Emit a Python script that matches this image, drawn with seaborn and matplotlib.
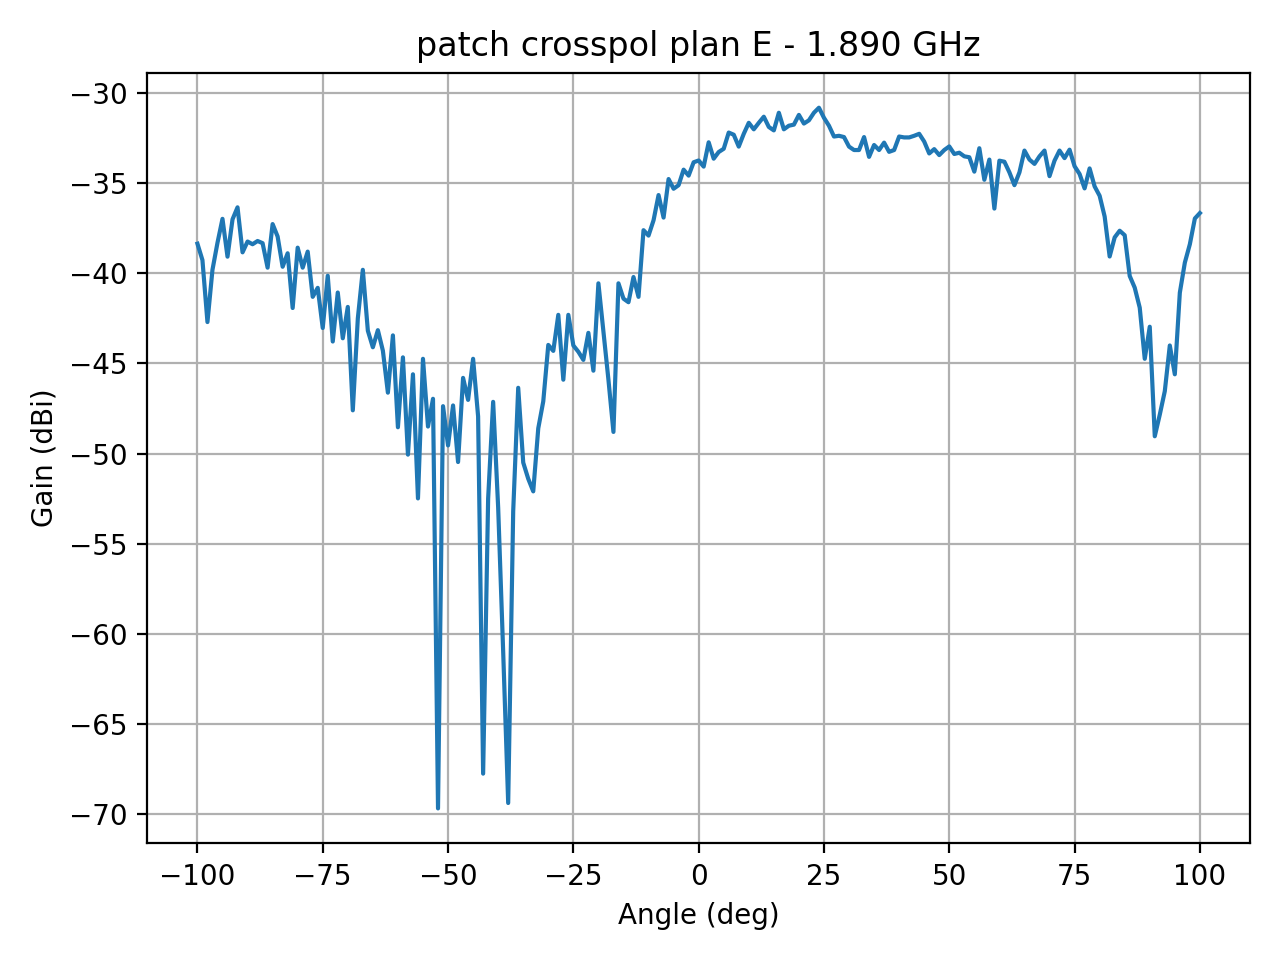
import matplotlib
matplotlib.use("Agg")
import matplotlib.pyplot as plt
import seaborn as sns
import pandas as pd

# angles of the measurement, one step per degree
angles = list(range(-100, 101))

gain_neg = [
    -38.35, -39.26, -42.7, -39.8, -38.3, -36.97, -39.07, -37.0, -36.33, -38.83,
    -38.23, -38.38, -38.2, -38.32, -39.68, -37.26, -37.95, -39.63, -38.88, -41.92,
    -38.57, -39.68, -38.79, -41.3, -40.8, -43.03, -40.13, -43.78, -41.06, -43.6,
    -41.86, -47.6, -42.5, -39.8, -43.18, -44.1, -43.15, -44.29, -46.62, -43.44,
    -48.54, -44.66, -50.06, -45.6, -52.49, -44.74, -48.5, -46.96, -69.7, -47.37,
    -49.55, -47.33, -50.47, -45.8, -47.02, -44.74, -47.94, -67.77, -52.5, -47.13,
    -53.0, -61.0, -69.4, -53.2, -46.35, -50.5, -51.4, -52.1, -48.6, -47.1,
    -43.97, -44.3, -42.3, -45.9, -42.3, -44.0, -44.35, -44.8, -43.3, -45.4,
    -40.55, -43.2, -45.9, -48.8, -40.55, -41.4, -41.6, -40.2, -41.3, -37.6,
    -37.9, -37.05, -35.65, -36.9, -34.76, -35.3, -35.1, -34.24, -34.57, -33.83,
]
gain_pos = [
    -33.73, -34.07, -32.72, -33.63, -33.26, -33.08, -32.18, -32.3, -32.96, -32.25,
    -31.64, -32.0, -31.64, -31.3, -31.87, -32.06, -31.08, -32.0, -31.8, -31.74,
    -31.2, -31.68, -31.5, -31.08, -30.8, -31.36, -31.8, -32.4, -32.36, -32.43,
    -32.96, -33.15, -33.15, -32.43, -33.53, -32.87, -33.15, -32.74, -33.25, -33.15,
    -32.4, -32.45, -32.45, -32.36, -32.25, -32.68, -33.34, -33.1, -33.43, -33.15,
    -32.95, -33.37, -33.3, -33.5, -33.55, -34.35, -33.05, -34.8, -33.68, -36.4,
    -33.74, -33.8, -34.39, -35.1, -34.39, -33.18, -33.68, -33.92, -33.5, -33.18,
    -34.6, -33.74, -33.18, -33.6, -33.13, -34.05, -34.48, -35.28, -34.17, -35.17,
    -35.69, -36.84, -39.06, -38.0, -37.63, -37.88, -40.14, -40.79, -41.9, -44.74,
    -42.96, -49.04, -47.84, -46.54, -44.0, -45.6, -41.07, -39.4, -38.38, -36.95,
    -36.65,
]
gain = gain_neg + gain_pos

df = pd.DataFrame({"angle": angles, "gain": gain})

fig, ax = plt.subplots(figsize=(6.4, 4.8), dpi=200)
sns.lineplot(data=df, x="angle", y="gain", ax=ax, color="#1f77b4", linewidth=1.5)
ax.grid(True, color="#b0b0b0", linewidth=0.8)
ax.set_axisbelow(True)
ax.set_title("patch crosspol plan E - 1.890 GHz")
ax.set_xlabel("Angle (deg)")
ax.set_ylabel("Gain (dBi)")
plt.tight_layout()
plt.savefig("out.png", dpi=200)
